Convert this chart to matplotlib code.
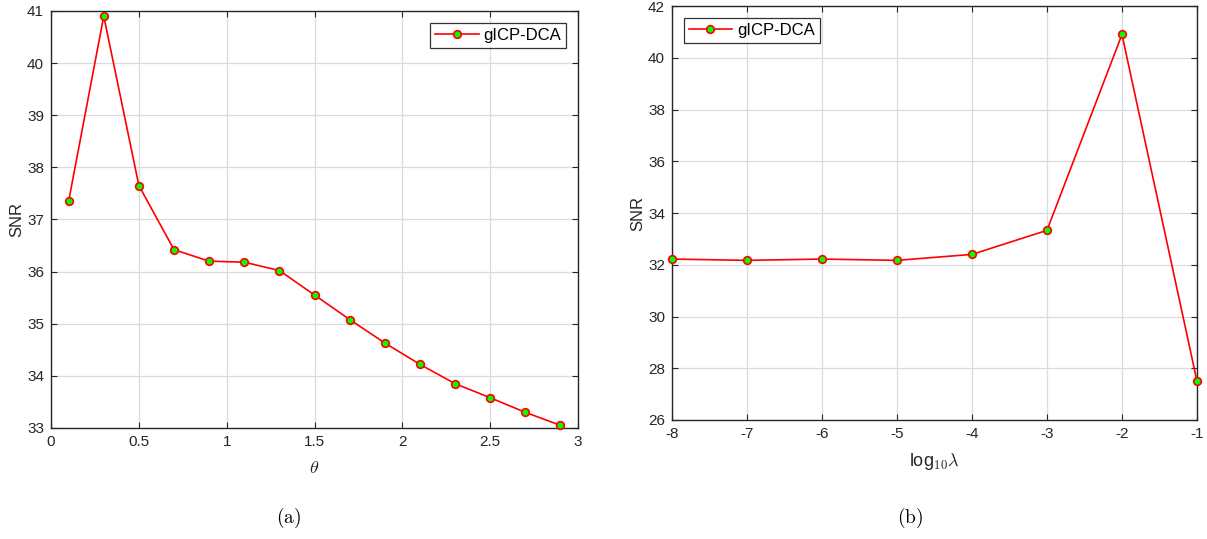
import numpy as np
import matplotlib
matplotlib.use("Agg")
import matplotlib.pyplot as plt

plt.rcParams['font.family'] = ['Liberation Sans', 'DejaVu Sans']
plt.rcParams['mathtext.fontset'] = 'cm'
plt.rcParams['axes.unicode_minus'] = False

# SNR against theta
theta = [0.1, 0.3, 0.5, 0.7, 0.9, 1.1, 1.3, 1.5, 1.7, 1.9, 2.1, 2.3, 2.5, 2.7, 2.9]
snr_theta = [37.35, 40.9, 37.65, 36.42, 36.2, 36.18, 36.02, 35.55, 35.08,
             34.63, 34.22, 33.85, 33.58, 33.3, 33.05]

# SNR against log10(lambda)
loglam = [-8, -7, -6, -5, -4, -3, -2, -1]
snr_lam = [32.22, 32.17, 32.22, 32.17, 32.4, 33.33, 40.9, 27.5]

txt = '#262626'

fig = plt.figure(figsize=(12.07, 5.39), dpi=100)
ax1 = fig.add_axes([0.0423, 0.206, 0.4366, 0.7737])
ax2 = fig.add_axes([0.5567, 0.2208, 0.435, 0.768])

def style(ax):
    ax.grid(True, color='#dcdcdc', linewidth=0.9)
    ax.set_axisbelow(True)
    ax.tick_params(direction='in', top=True, right=True, length=4,
                   labelsize=11, colors=txt, width=0.8, pad=5)
    for s in ax.spines.values():
        s.set_color(txt)
        s.set_linewidth(1.0)

def curve(ax, x, y):
    ax.plot(x, y, '-o', color='red', lw=1.2, ms=5.5, mfc=(0, 1, 0),
            mec='red', mew=1.2, label='gICP-DCA', clip_on=False, zorder=3)

def legend(ax, where):
    lg = ax.legend(loc=where, fontsize=12, fancybox=False, edgecolor='black',
                   borderaxespad=0.7, handlelength=2.6, handletextpad=0.3,
                   borderpad=0.3)
    lg.get_frame().set_linewidth(0.9)

curve(ax1, theta, snr_theta)
ax1.set_xlim(0, 3)
ax1.set_ylim(33, 41)
ax1.set_xticks([0, 0.5, 1, 1.5, 2, 2.5, 3])
ax1.set_xticklabels(['0', '0.5', '1', '1.5', '2', '2.5', '3'])
ax1.set_yticks(range(33, 42))
ax1.set_xlabel(r'$\theta$', fontsize=13, color=txt, labelpad=8)
ax1.set_ylabel('SNR', fontsize=12, color=txt, labelpad=2)
style(ax1)
legend(ax1, 'upper right')

curve(ax2, loglam, snr_lam)
ax2.set_xlim(-8, -1)
ax2.set_ylim(26, 42)
ax2.set_xticks(loglam)
ax2.set_yticks(range(26, 43, 2))
ax2.set_xlabel(r'log$_{\mathsf{10}}\lambda$', fontsize=13, color=txt, labelpad=7)
ax2.set_ylabel('SNR', fontsize=12, color=txt, labelpad=2)
style(ax2)
legend(ax2, 'upper left')

fig.text(289 / 1207, 1 - 518 / 539, r'$\mathrm{(a)}$', fontsize=14, ha='center', va='center')
fig.text(910 / 1207, 1 - 518 / 539, r'$\mathrm{(b)}$', fontsize=14, ha='center', va='center')

fig.savefig('out.png', dpi=100)
